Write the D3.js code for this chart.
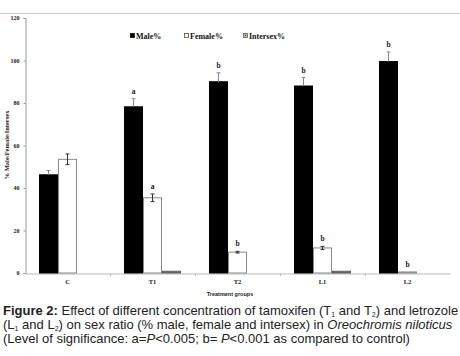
<!DOCTYPE html>
<html>
<head>
<meta charset="utf-8">
<script src="https://cdn.jsdelivr.net/npm/d3@7"></script>
<style>
  body { margin: 0; background: #fff; }
  svg { display: block; }
</style>
</head>
<body>
<svg id="chart" width="460" height="356"></svg>
<script>
const groups = ["C", "T1", "T2", "L1", "L2"];
const seriesNames = ["Male%", "Female%", "Intersex%"];
const maleValues = [46.2, 78.2, 90.0, 88.0, 99.5];
const femaleValues = [53.5, 35.4, 9.8, 11.8, 0.5];
const intersexValues = [0, 0.8, 0, 0.8, 0];
const maleErrors = [2.0, 3.8, 4.2, 4.0, 4.5];
const femaleErrors = [2.5, 1.8, 0.4, 0.7, 0];
const maleLetters = ["", "a", "b", "b", "b"];
const femaleLetters = ["", "a", "b", "b", "b"];
const yTicks = [0, 20, 40, 60, 80, 100, 120];

const svg = d3.select("#chart");

const defs = svg.append("defs");
const pat = defs.append("pattern")
    .attr("id", "dots")
    .attr("width", 2).attr("height", 2)
    .attr("patternUnits", "userSpaceOnUse");
pat.append("rect").attr("width", 2).attr("height", 2).attr("fill", "#bbb");
pat.append("rect").attr("width", 1).attr("height", 1).attr("fill", "#333");

const fills = ["#000", "#fff", "url(#dots)"];
const strokes = ["#000", "#888", "#555"];

// top rule
svg.append("line")
    .attr("x1", 0).attr("x2", 460).attr("y1", 13.5).attr("y2", 13.5)
    .attr("stroke", "#ccc").attr("stroke-width", 1);

const x = d3.scaleBand().domain(groups).range([25, 450]);
const xs = d3.scaleBand().domain(seriesNames).range([-28.5, 28.5]);
const y = d3.scaleLinear().domain([0, 120]).range([273, 18]);

const rows = groups.map((g, i) => ({
    g,
    vals: [maleValues[i], femaleValues[i], intersexValues[i]],
    errs: [maleErrors[i], femaleErrors[i], 0],
    letters: [maleLetters[i], femaleLetters[i], ""]
}));

const serif = "'Liberation Serif', 'Times New Roman', serif";

// y axis
const yAxis = svg.append("g")
    .attr("transform", "translate(25.5,0)")
    .call(d3.axisLeft(y).tickValues(yTicks).tickSize(2).tickPadding(4));
yAxis.select(".domain").attr("stroke", "#999");
yAxis.selectAll(".tick line").attr("stroke", "#999");
yAxis.selectAll("text")
    .style("font-family", serif).style("font-size", "6px")
    .style("font-weight", "bold").attr("fill", "#222");

// x axis
const xAxis = svg.append("g")
    .attr("transform", "translate(0,273.5)")
    .call(d3.axisBottom(x).tickSize(0).tickPadding(6));
xAxis.select(".domain").attr("stroke", "#bbb");
xAxis.selectAll("text")
    .style("font-family", serif).style("font-size", "6.5px")
    .style("font-weight", "bold").attr("fill", "#222");
svg.append("g").selectAll("line")
    .data(groups.slice(1))
    .join("line")
    .attr("x1", d => x(d) + 0.5).attr("x2", d => x(d) + 0.5)
    .attr("y1", 273.5).attr("y2", 276)
    .attr("stroke", "#bbb");

// bars
const grp = svg.append("g").selectAll("g")
    .data(rows)
    .join("g")
    .attr("transform", d => `translate(${x(d.g) + x.bandwidth() / 2},0)`);

const items = d => d.vals.map((v, k) => ({ v, k, e: d.errs[k], l: d.letters[k] }));

grp.selectAll("rect")
    .data(items)
    .join("rect")
    .attr("x", d => xs(seriesNames[d.k]) + 0.5)
    .attr("width", xs.bandwidth() - 1)
    .attr("y", d => y(d.v))
    .attr("height", d => y(0) - y(d.v))
    .attr("fill", d => fills[d.k])
    .attr("stroke", d => d.v > 0 ? strokes[d.k] : "none")
    .attr("stroke-width", 1);

// error bars (male bars: only the part above the bar shows)
const errs = grp.selectAll("g.err")
    .data(d => items(d).filter(e => e.e > 0))
    .join("g")
    .attr("class", "err")
    .attr("transform", d => `translate(${xs(seriesNames[d.k]) + xs.bandwidth() / 2},0)`);
errs.append("line")
    .attr("y1", d => d.k === 0 ? y(d.v) : y(d.v - d.e)).attr("y2", d => y(d.v + d.e))
    .attr("stroke", d => d.k === 0 ? "#888" : "#333");
errs.append("line")
    .attr("x1", -2).attr("x2", 2)
    .attr("y1", d => y(d.v + d.e)).attr("y2", d => y(d.v + d.e))
    .attr("stroke", d => d.k === 0 ? "#888" : "#333");
errs.filter(d => d.k !== 0).append("line")
    .attr("x1", -2).attr("x2", 2)
    .attr("y1", d => y(d.v - d.e)).attr("y2", d => y(d.v - d.e))
    .attr("stroke", "#333");

// significance letters
grp.selectAll("text.sig")
    .data(d => items(d).filter(e => e.l))
    .join("text")
    .attr("class", "sig")
    .attr("x", d => xs(seriesNames[d.k]) + xs.bandwidth() / 2)
    .attr("y", d => y(d.v + d.e) - 5)
    .attr("text-anchor", "middle")
    .style("font-family", serif).style("font-size", "7.5px").style("font-weight", "bold")
    .attr("fill", "#222")
    .text(d => d.l);

// legend
const legendX = [130, 184, 243];
const leg = svg.append("g").selectAll("g")
    .data(seriesNames)
    .join("g")
    .attr("transform", (d, i) => `translate(${legendX[i]},37)`);
leg.append("rect")
    .attr("x", 0.5).attr("y", -3.5).attr("width", 4).attr("height", 4)
    .attr("fill", (d, i) => fills[i])
    .attr("stroke", (d, i) => i === 1 ? "#333" : strokes[i])
    .attr("stroke-width", 0.7);
leg.append("text")
    .attr("x", 6).attr("y", 1.5)
    .style("font-family", serif).style("font-size", "8px").style("font-weight", "bold")
    .attr("fill", "#111")
    .text(d => d);

// axis titles
svg.append("text")
    .attr("transform", "translate(9,145) rotate(-90)")
    .attr("text-anchor", "middle")
    .style("font-family", serif).style("font-size", "6.5px").style("font-weight", "bold")
    .attr("fill", "#222")
    .text("% Male/Female/Intersex");

svg.append("text")
    .attr("x", 230).attr("y", 296)
    .attr("text-anchor", "middle")
    .style("font-family", "'Liberation Sans', Arial, sans-serif")
    .style("font-size", "5.5px").style("font-weight", "bold")
    .attr("fill", "#222")
    .text("Treatment groups");

// caption
const cap = svg.append("text")
    .style("font-family", "'Liberation Sans', Arial, sans-serif")
    .style("font-size", "13px")
    .attr("fill", "#222");
const sub = (parent, s) => {
    parent.append("tspan").attr("dy", 2).style("font-size", "7px").text(s);
    return parent.append("tspan").attr("dy", -2);
};
const line1 = cap.append("tspan").attr("x", 3).attr("y", 315);
line1.append("tspan").style("font-weight", "bold").text("Figure 2: ");
line1.append("tspan").text("Effect of different concentration of tamoxifen (T");
sub(line1, "1").text(" and T");
sub(line1, "2").text(") and letrozole");

const line2 = cap.append("tspan").attr("x", 3).attr("y", 329);
line2.append("tspan").text("(L");
sub(line2, "1").text(" and L");
sub(line2, "2").text(") on sex ratio (% male, female and intersex) in ");
line2.append("tspan").style("font-style", "italic").text("Oreochromis niloticus");

const line3 = cap.append("tspan").attr("x", 3).attr("y", 343);
line3.append("tspan").text("(Level of significance: a=");
line3.append("tspan").style("font-style", "italic").text("P");
line3.append("tspan").text("<0.005; b= ");
line3.append("tspan").style("font-style", "italic").text("P");
line3.append("tspan").text("<0.001 as compared to control)");
</script>
</body>
</html>
